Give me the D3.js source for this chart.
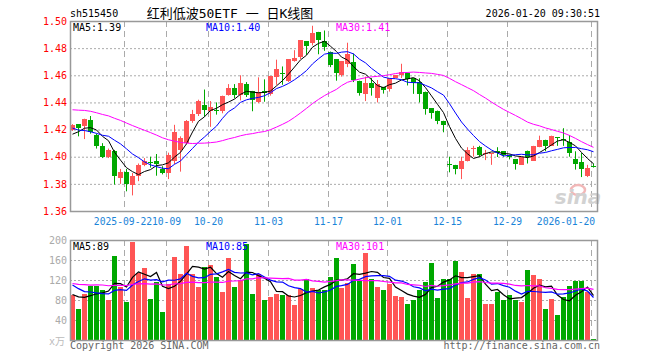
<!DOCTYPE html>
<html>
<head>
<meta charset="utf-8">
<script src="https://cdn.jsdelivr.net/npm/d3@7"></script>
<style>
    body { margin: 0; background: #fff; }
    svg text { font-family: "DejaVu Sans Mono", monospace; font-size: 10px; }
</style>
</head>
<body>
<svg id="chart" width="660" height="360"></svg>
<script>
// trading days shown (2025-09-09 .. 2026-01-20)
const dates = [
    "2025-09-09","2025-09-10","2025-09-11","2025-09-12","2025-09-15","2025-09-16","2025-09-17","2025-09-18","2025-09-19",
    "2025-09-22","2025-09-23","2025-09-24","2025-09-25","2025-09-26","2025-09-29","2025-09-30",
    "2025-10-09","2025-10-10","2025-10-13","2025-10-14","2025-10-15","2025-10-16","2025-10-17","2025-10-20","2025-10-21",
    "2025-10-22","2025-10-23","2025-10-24","2025-10-27","2025-10-28","2025-10-29","2025-10-30","2025-10-31",
    "2025-11-03","2025-11-04","2025-11-05","2025-11-06","2025-11-07","2025-11-10","2025-11-11","2025-11-12","2025-11-13",
    "2025-11-14","2025-11-17","2025-11-18","2025-11-19","2025-11-20","2025-11-21","2025-11-24","2025-11-25","2025-11-26",
    "2025-11-27","2025-11-28","2025-12-01","2025-12-02","2025-12-03","2025-12-04","2025-12-05","2025-12-08","2025-12-09",
    "2025-12-10","2025-12-11","2025-12-12","2025-12-15","2025-12-16","2025-12-17","2025-12-18","2025-12-19","2025-12-22",
    "2025-12-23","2025-12-24","2025-12-25","2025-12-26","2025-12-29","2025-12-30","2025-12-31","2026-01-05","2026-01-06",
    "2026-01-07","2026-01-08","2026-01-09","2026-01-12","2026-01-13","2026-01-14","2026-01-15","2026-01-16","2026-01-19",
    "2026-01-20"
];
const open = [
    1.420,1.424,1.423,1.427,1.416,1.408,1.3995,1.404,1.3845,1.389,1.379,1.386,1.394,1.396,1.397,1.391,
    1.388,1.3965,1.405,1.410,1.4265,1.4315,1.438,1.4335,1.4345,1.4335,1.4455,1.4505,1.4455,1.4535,1.4485,1.4405,1.4485,
    1.4465,1.459,1.4615,1.456,1.4705,1.4735,1.485,1.484,1.492,1.4855,1.4775,1.472,1.4605,1.468,1.4695,1.456,1.446,
    1.4545,1.443,1.4515,1.450,1.458,1.460,1.462,1.4578,1.455,1.448,1.4357,1.434,1.4265,1.395,1.394,1.391,1.3965,
    1.4055,1.4075,1.402,1.4022,1.404,1.404,1.4015,1.398,1.394,1.404,1.397,1.407,1.4125,1.408,1.4145,1.413,
    1.411,1.398,1.396,1.3855,1.3935
];
const close = [
    1.4235,1.421,1.428,1.418,1.408,1.400,1.405,1.3855,1.389,1.380,1.3855,1.394,1.397,1.396,1.395,1.388,
    1.4015,1.418,1.4135,1.4265,1.4315,1.441,1.4345,1.437,1.4343,1.445,1.4505,1.4455,1.4545,1.4455,1.442,1.448,1.447,
    1.4595,1.4645,1.4613,1.472,1.473,1.486,1.4815,1.491,1.486,1.481,1.4675,1.462,1.4705,1.4755,1.4565,1.447,1.4545,
    1.4505,1.4535,1.449,1.458,1.460,1.4625,1.457,1.4541,1.446,1.435,1.432,1.426,1.4235,1.3948,1.391,1.3965,1.405,
    1.4062,1.4015,1.4025,1.4025,1.4038,1.4015,1.400,1.395,1.400,1.400,1.408,1.4125,1.408,1.415,1.4143,1.4128,
    1.4027,1.395,1.391,1.392,1.3933
];
const high = [
    1.424,1.424,1.428,1.430,1.417,1.410,1.406,1.405,1.391,1.391,1.388,1.395,1.399,1.400,1.402,1.393,
    1.403,1.4235,1.415,1.427,1.4345,1.442,1.4495,1.441,1.440,1.445,1.4535,1.4535,1.460,1.455,1.4485,1.4585,1.457,
    1.4595,1.4715,1.4665,1.472,1.4785,1.486,1.485,1.4965,1.492,1.493,1.4775,1.472,1.4705,1.484,1.476,1.456,1.459,
    1.458,1.4565,1.4515,1.458,1.460,1.4685,1.462,1.4578,1.4578,1.448,1.4357,1.434,1.4265,1.400,1.394,1.400,1.407,
    1.408,1.408,1.405,1.4025,1.407,1.404,1.4015,1.398,1.400,1.4045,1.408,1.4155,1.4125,1.4155,1.4145,1.421,
    1.416,1.404,1.4027,1.394,1.395
];
const low = [
    1.419,1.415,1.413,1.417,1.406,1.399,1.399,1.3795,1.380,1.3745,1.3715,1.382,1.393,1.392,1.386,1.387,
    1.3835,1.3945,1.389,1.409,1.425,1.430,1.4295,1.422,1.431,1.432,1.445,1.443,1.4415,1.444,1.4335,1.4395,1.4405,
    1.445,1.453,1.453,1.455,1.470,1.472,1.475,1.482,1.4755,1.478,1.466,1.456,1.459,1.466,1.455,1.445,1.441,
    1.445,1.440,1.4465,1.448,1.458,1.458,1.4525,1.4463,1.440,1.431,1.428,1.424,1.418,1.3885,1.387,1.3835,1.3965,
    1.400,1.400,1.3975,1.394,1.3998,1.400,1.398,1.3905,1.394,1.395,1.397,1.407,1.404,1.408,1.408,1.408,
    1.400,1.3905,1.385,1.385,1.392
];
// volume, x万
const volume = [
    90,62,92,109,109,100,80,168,106,76,196,135,145,83,117,57,
    113,167,133,189,133,107,147,151,126,96,164,107,120,192,92,133,80,
    87,93,90,90,70,102,122,105,101,101,127,164,105,115,152,121,175,
    122,107,100,112,88,87,72,80,100,117,155,85,122,122,158,137,85,
    132,132,72,72,97,80,90,80,77,140,130,122,63,83,51,86,
    109,118,119,97,2
];
// closes and volumes of the 29 sessions before the first one, only feed the moving averages
const priorClose = [
    1.430,1.434,1.437,1.440,1.438,1.436,1.439,1.436,1.438,
    1.442,1.446,1.449,1.447,1.450,1.448,1.445,1.447,1.444,1.441,1.440,
    1.436,1.431,1.427,1.420,1.414,1.412,1.415,1.416,1.4165
];
const priorVolume = [
    120,105,130,98,110,125,140,102,95,118,108,132,115,100,126,110,98,122,117,119,
    135,150,118,127,115,85,98,92,90
];
const tickDates = ["2025-09-22","2025-10-09","2025-10-20","2025-11-03","2025-11-17","2025-12-01","2025-12-15","2025-12-29","2026-01-20"];
const tickLabels = ["2025-09-22","10-09","10-20","11-03","11-17","12-01","12-15","12-29","2026-01-20"];
const priceTicks = [1.36,1.38,1.40,1.42,1.44,1.46,1.48,1.50];
const volumeTicks = [40,80,120,160,200];
const maPeriods = [5,10,30];
const maColors = ["#000000","#0000ff","#ff00ff"];

drawChart();

function movingAverage(prior, values, n) {
    let all = prior.concat(values);
    return values.map(function (v, i) {
        let end = prior.length + i + 1;
        return d3.mean(all.slice(end - n, end));
    });
}

function drawChart() {
    let left = 70, right = 597;
    let svg = d3.select("#chart");
    let x = d3.scaleBand().domain(dates).range([left, right]);
    let y = d3.scaleLinear().domain([1.36, 1.50]).range([211, 21]);
    let yv = d3.scaleLinear().domain([0, 200]).range([340, 240]);
    let up = "#ff5555", down = "#00a800";
    let cx = function (d) { return Math.round(x(d)) + 3; };

    // header
    svg.append("text").attr("x", left).attr("y", 17).attr("fill", "#000").text("sh515450");
    svg.append("text").attr("x", 230).attr("y", 18).attr("text-anchor", "middle")
        .style("font-family", "'DejaVu Sans Mono','Noto Sans CJK SC'").style("font-size", "13px")
        .text("红利低波50ETF 一 日K线图");
    svg.append("text").attr("x", 600).attr("y", 17).attr("text-anchor", "end").text("2026-01-20 09:30:51");

    let panels = [[21, 211], [240, 340]];
    // grid
    svg.append("g").selectAll("line").data(priceTicks.slice(1, -1)).join("line")
        .attr("x1", left).attr("x2", right).attr("y1", d => y(d) + 0.5).attr("y2", d => y(d) + 0.5)
        .attr("stroke", "#aaa").attr("stroke-dasharray", "2,2");
    svg.append("g").selectAll("line").data(volumeTicks.slice(0, -1)).join("line")
        .attr("x1", left).attr("x2", right).attr("y1", d => yv(d) + 0.5).attr("y2", d => yv(d) + 0.5)
        .attr("stroke", "#aaa").attr("stroke-dasharray", "2,2");
    panels.forEach(function (p) {
        svg.append("g").selectAll("line").data(tickDates).join("line")
            .attr("x1", d => Math.round(x(d)) + 0.5).attr("x2", d => Math.round(x(d)) + 0.5)
            .attr("y1", p[0]).attr("y2", p[1])
            .attr("stroke", "#aaa").attr("stroke-dasharray", "6,4");
    });

    // axes
    let ya = svg.append("g").attr("transform", "translate(67,0)")
        .call(d3.axisLeft(y).tickValues(priceTicks).tickFormat(d3.format(".2f")).tickSize(0).tickPadding(0));
    ya.select(".domain").remove();
    ya.selectAll("text").attr("fill", "#ff0000").style("font-family", "'DejaVu Sans Mono'").style("font-size", "10px");
    let va = svg.append("g").attr("transform", "translate(67,0)")
        .call(d3.axisLeft(yv).tickValues(volumeTicks).tickSize(0).tickPadding(0));
    va.select(".domain").remove();
    va.selectAll("text").attr("fill", "#aaa").style("font-family", "'DejaVu Sans Mono'").style("font-size", "10px");
    svg.append("text").attr("x", 49).attr("y", 345).attr("fill", "#bbb")
        .style("font-family", "'DejaVu Sans Mono','Noto Sans CJK SC'").text("x万");

    let xa = svg.append("g").attr("transform", "translate(0,218)")
        .call(d3.axisBottom(x).tickValues(tickDates).tickSize(0).tickPadding(0)
            .tickFormat((d, i) => tickLabels[i]));
    xa.select(".domain").remove();
    xa.selectAll("text").attr("fill", "#1a84d8").attr("dy", "0.71em")
        .style("font-family", "'DejaVu Sans Mono'").style("font-size", "9.7px");
    xa.selectAll(".tick").attr("transform", function (d, i) {
        let px = Math.round(x(d)) + 0.5;
        if (i === 0) px -= 1.5;
        return "translate(" + Math.min(px, right - 31) + ",0)";
    });

    // watermark
    let wm = svg.append("g").attr("transform", "translate(578,204)");
    wm.append("ellipse").attr("cx", 0).attr("cy", -14).attr("rx", 7).attr("ry", 5)
        .attr("fill", "none").attr("stroke", "#f2b8b8").attr("stroke-width", 2.5);
    wm.append("text").attr("text-anchor", "middle").attr("fill", "#d2d2d2")
        .style("font-family", "'DejaVu Sans'").style("font-size", "20px")
        .style("font-weight", "bold").style("font-style", "italic").text("sina");

    // candles
    let k = d3.range(dates.length);
    let g = svg.append("g");
    g.selectAll("line").data(k).join("line")
        .attr("x1", i => cx(dates[i]) - 0.5).attr("x2", i => cx(dates[i]) - 0.5)
        .attr("y1", i => y(high[i])).attr("y2", i => y(low[i]))
        .attr("stroke", i => close[i] > open[i] ? up : down);
    g.selectAll("rect").data(k).join("rect")
        .attr("x", i => cx(dates[i]) - 3).attr("width", 5)
        .attr("y", i => y(Math.max(open[i], close[i])))
        .attr("height", i => Math.max(1, Math.abs(y(open[i]) - y(close[i]))))
        .attr("fill", i => close[i] > open[i] ? up : down)
        .attr("shape-rendering", "crispEdges");

    // volume bars
    svg.append("g").selectAll("rect").data(k).join("rect")
        .attr("x", i => cx(dates[i]) - 3).attr("width", 5)
        .attr("y", i => yv(volume[i])).attr("height", i => yv(0) - yv(volume[i]))
        .attr("fill", i => close[i] > open[i] ? up : down)
        .attr("shape-rendering", "crispEdges");

    // moving averages
    let priceLine = d3.line().x((d, i) => cx(dates[i]) - 0.5).y(d => y(d));
    let volLine = d3.line().x((d, i) => cx(dates[i]) - 0.5).y(d => yv(d));
    let legendX = [73, 206, 336];
    maPeriods.forEach(function (n, j) {
        let pm = movingAverage(priorClose, close, n);
        let vm = movingAverage(priorVolume, volume, n);
        svg.append("path").datum(pm).attr("d", priceLine)
            .attr("fill", "none").attr("stroke", maColors[j]).attr("stroke-width", 1);
        svg.append("path").datum(vm).attr("d", volLine)
            .attr("fill", "none").attr("stroke", maColors[j]).attr("stroke-width", 1.2);
        svg.append("text").attr("x", legendX[j]).attr("y", 31).attr("fill", maColors[j])
            .text("MA" + n + ":" + pm[pm.length - 1].toFixed(2));
        svg.append("text").attr("x", legendX[j]).attr("y", 250).attr("fill", maColors[j])
            .text("MA" + n + ":" + Math.floor(vm[vm.length - 1]));
    });

    // frames
    panels.forEach(function (p) {
        svg.append("rect").attr("x", left + 0.5).attr("y", p[0] + 0.5)
            .attr("width", right - left).attr("height", p[1] - p[0])
            .attr("fill", "none").attr("stroke", "#999").attr("stroke-width", 1.5);
    });

    // footer
    svg.append("text").attr("x", left).attr("y", 349).attr("fill", "#666").text("Copyright 2026 SINA.COM");
    svg.append("text").attr("x", 600).attr("y", 349).attr("text-anchor", "end").attr("fill", "#666")
        .text("http://finance.sina.com.cn");
}
</script>
</body>
</html>
